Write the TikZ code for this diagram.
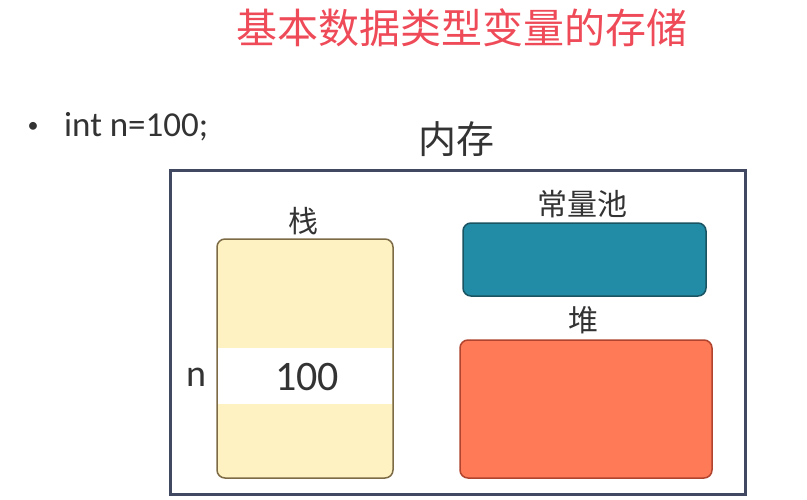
\documentclass[tikz,border=0pt]{standalone}
\usepackage{fontspec}
\newfontfamily\cjk{Noto Sans CJK SC}
\newfontfamily\lat{Carlito}
\definecolor{titlered}{HTML}{EF4A58}
\definecolor{txt}{HTML}{333333}
\definecolor{frame}{HTML}{404862}
\definecolor{stackfill}{HTML}{FFF2C2}
\definecolor{stackdraw}{HTML}{7D6B46}
\definecolor{poolfill}{HTML}{228BA6}
\definecolor{pooldraw}{HTML}{1A5463}
\definecolor{heapfill}{HTML}{FF7A57}
\definecolor{heapdraw}{HTML}{B0442E}
\tikzset{
  lbl/.style={text=txt, inner sep=0pt, font=\cjk\fontsize{30}{30}\selectfont},
  region/.style={rounded corners=8pt, line width=1.5pt},
}
\begin{document}
\begin{tikzpicture}[x=1pt,y=-1pt]
\useasboundingbox (0,0) rectangle (807,499);
\fill[white] (0,0) rectangle (807,499);
% title
\node[text=titlered, inner sep=0pt, font=\cjk\fontsize{41}{41}\selectfont] (title) at (462,28) {基本数据类型变量的存储};
% bullet line
\node[text=txt, inner sep=0pt, font=\lat\fontsize{22}{22}\selectfont] (bullet) at (33,127) {•};
\node[text=txt, inner sep=0pt, anchor=base west, font=\lat\fontsize{35}{35}\selectfont] (code) at (64,136) {int n=100;};
% memory label
\node[text=txt, inner sep=0pt, font=\cjk\fontsize{38}{38}\selectfont] (mem) at (456,139) {内存};
% outer frame
\node[draw=frame, line width=3pt, minimum width=575pt, minimum height=324pt, inner sep=0pt] (frame) at (457.5,332) {};
% stack
\node[region, draw=stackdraw, fill=stackfill, minimum width=176pt, minimum height=239pt, inner sep=0pt] (stack) at (305,358.5) {};
\fill[white] (218,348) rectangle (392,404);
\node[lbl] (stacklbl) at (303,221) {栈};
\node[text=txt, inner sep=0pt, font=\lat\fontsize{42}{42}\selectfont] (val) at (307,377) {100};
\node[text=txt, inner sep=0pt, font=\lat\fontsize{38}{38}\selectfont] (nlbl) at (196,377) {n};
% constant pool
\node[region, draw=pooldraw, fill=poolfill, minimum width=243pt, minimum height=73pt, inner sep=0pt] (pool) at (584.5,259.5) {};
\node[lbl] (poollbl) at (582,204) {常量池};
% heap
\node[region, draw=heapdraw, fill=heapfill, minimum width=252pt, minimum height=138pt, inner sep=0pt] (heap) at (586,409) {};
\node[lbl] (heaplbl) at (583,320) {堆};
\end{tikzpicture}
\end{document}
